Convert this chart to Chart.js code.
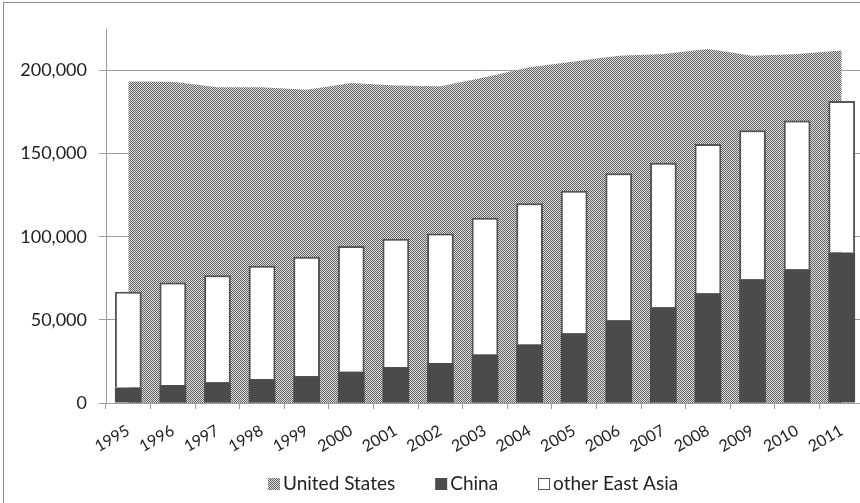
<!DOCTYPE html>
<html>
<head>
<meta charset="utf-8">
<script src="https://cdn.jsdelivr.net/npm/chart.js@4.4.0/dist/chart.umd.min.js"></script>
<style>
  html, body { margin: 0; padding: 0; background: #fff; overflow: hidden; }
  #wrap { position: relative; width: 860px; height: 503px; overflow: hidden; }
  #frame {
    position: absolute; left: 3px; top: 2px; width: 900px; height: 600px;
    border-left: 1px solid #8c8c8c; border-top: 1px solid #8c8c8c;
  }
  #chart { position: absolute; left: 0; top: 0; }
</style>
</head>
<body>
<div id="wrap">
  <div id="frame"></div>
  <canvas id="chart" width="880" height="503"></canvas>
</div>
<script>
const years = ["1995", "1996", "1997", "1998", "1999", "2000", "2001", "2002", "2003",
  "2004", "2005", "2006", "2007", "2008", "2009", "2010", "2011"];
const usValues = [193400, 193200, 190000, 190000, 188500, 192500, 191000, 190500, 196000,
  202000, 205400, 208900, 210000, 212900, 208900, 210000, 212000];
const chinaValues = [9300, 10800, 12500, 14400, 16200, 18800, 21600, 24000, 29200,
  35200, 42000, 49800, 57600, 66000, 74500, 80500, 90500];
const otherEastAsiaValues = [57700, 61700, 64300, 68100, 71800, 75700, 77200, 78000, 82300,
  84900, 85700, 88400, 87000, 89800, 89600, 89400, 91200];
const yTicks = [0, 50000, 100000, 150000, 200000];

// checkerboard fill like the Excel pattern
function makePattern() {
  const c = document.createElement("canvas");
  c.width = 2;
  c.height = 2;
  const g = c.getContext("2d");
  g.fillStyle = "#dedede";
  g.fillRect(0, 0, 2, 2);
  g.fillStyle = "#626262";
  g.fillRect(0, 0, 1, 1);
  g.fillRect(1, 1, 1, 1);
  return g.createPattern(c, "repeat");
}
const ctx = document.getElementById("chart").getContext("2d");
const usPattern = makePattern();

const textColor = "#222";
const gridColor = "#9d9d9d";

const bottomLegend = {
  id: "bottomLegend",
  afterDraw(chart) {
    const c = chart.ctx;
    c.save();
    c.font = "19px Lato";
    c.textBaseline = "middle";
    let x = 268;
    const y = 484;
    chart.data.datasets.forEach((ds) => {
      c.fillStyle = ds.backgroundColor;
      c.fillRect(x, y - 6, 12, 12);
      if (ds.label === "other East Asia") {
        c.strokeStyle = "#555";
        c.lineWidth = 1;
        c.strokeRect(x + 0.5, y - 5.5, 11, 11);
      }
      c.fillStyle = textColor;
      c.fillText(ds.label, x + 15, y);
      x += 15 + c.measureText(ds.label).width + 40;
    });
    c.restore();
  },
};

new Chart(ctx, {
  data: {
    labels: years,
    datasets: [
      {
        type: "line",
        label: "United States",
        data: usValues,
        backgroundColor: usPattern,
        borderWidth: 0,
        pointRadius: 0,
        fill: "origin",
        tension: 0,
        stack: "us",
        order: 2,
      },
      {
        type: "bar",
        label: "China",
        data: chinaValues,
        backgroundColor: "#4b4b4b",
        borderColor: "#4b4b4b",
        borderWidth: 0,
        stack: "asia",
        order: 1,
        barPercentage: 0.6,
        categoryPercentage: 1,
      },
      {
        type: "bar",
        label: "other East Asia",
        data: otherEastAsiaValues,
        backgroundColor: "#ffffff",
        borderColor: "#555555",
        borderWidth: 2,
        stack: "asia",
        order: 1,
        barPercentage: 0.6,
        categoryPercentage: 1,
      },
    ],
  },
  options: {
    responsive: false,
    animation: false,
    devicePixelRatio: 1,
    layout: { padding: { top: 29, right: 16, bottom: 0, left: 0 } },
    plugins: {
      legend: { display: false },
      tooltip: { enabled: false },
    },
    scales: {
      x: {
        stacked: true,
        offset: true,
        afterFit: (scale) => { scale.height = 100; },
        grid: {
          offset: true,
          drawOnChartArea: false,
          drawTicks: true,
          tickLength: 6,
          color: gridColor,
        },
        border: { color: gridColor, width: 1 },
        ticks: {
          color: textColor,
          font: { family: "Lato", size: 16 },
          minRotation: 30,
          maxRotation: 30,
          autoSkip: false,
          padding: 12,
        },
      },
      y: {
        stacked: true,
        min: 0,
        max: 225000,
        afterFit: (scale) => { scale.width = 106; },
        afterBuildTicks: (scale) => {
          scale.ticks = yTicks.map((v) => ({ value: v }));
        },
        grid: {
          color: gridColor,
          tickLength: 7,
        },
        border: { color: gridColor, width: 1 },
        ticks: {
          color: textColor,
          font: { family: "Lato", size: 18 },
          padding: 12,
          callback: (v) => v.toLocaleString("en-US"),
        },
      },
    },
  },
  plugins: [bottomLegend],
});
</script>
</body>
</html>
